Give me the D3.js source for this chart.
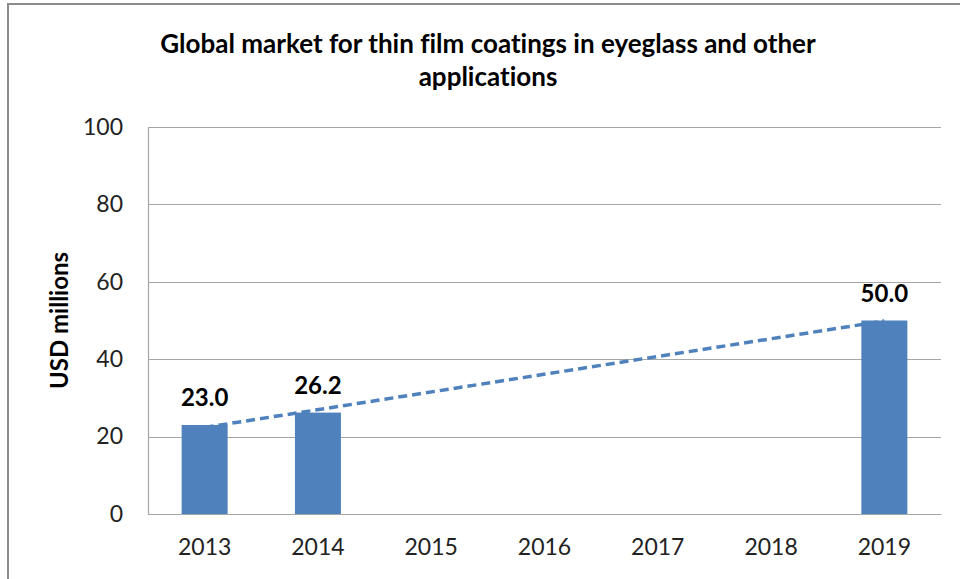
<!DOCTYPE html>
<html>
<head>
<meta charset="utf-8">
<script src="https://cdn.jsdelivr.net/npm/d3@7"></script>
<style>
  body { margin: 0; background: #fff; }
  svg { display: block; font-family: Lato, "Open Sans", sans-serif; font-variant-ligatures: none; }
</style>
</head>
<body>
<div id="chart"></div>
<script>
// chart data
var years = ["2013", "2014", "2015", "2016", "2017", "2018", "2019"];
var barYears = ["2013", "2014", "2019"];
var barValues = [23.0, 26.2, 50.0];
var yTicks = [0, 20, 40, 60, 80, 100];
var titleLines = ["Global market for thin film coatings in eyeglass and other", "applications"];

var W = 960, H = 579;
var margin = {top: 127, right: 19, bottom: 65, left: 148},
    width = W - margin.left - margin.right,
    height = H - margin.top - margin.bottom;

var svg = d3.select("#chart").append("svg")
    .attr("width", W)
    .attr("height", H);

// outer frame
svg.append("rect")
    .attr("x", 8).attr("y", 4)
    .attr("width", W + 20).attr("height", H + 20)
    .attr("fill", "none")
    .attr("stroke", "#8c8c8c")
    .attr("stroke-width", 2);

// title
svg.append("g").selectAll("text")
  .data(titleLines)
  .enter().append("text")
    .attr("x", 488)
    .attr("y", function(d, i) { return 53 + i * 33; })
    .attr("text-anchor", "middle")
    .style("font-size", "26px")
    .style("font-weight", "bold")
    .attr("fill", "#000")
    .text(function(d) { return d; });

var g = svg.append("g")
    .attr("transform", "translate(" + margin.left + "," + margin.top + ")");

var x = d3.scaleBand()
    .domain(years)
    .range([0, width])
    .paddingInner(0.594)
    .paddingOuter(0.297);

var xc = d3.scaleBand().domain(years).range([0, width]);

var y = d3.scaleLinear()
    .domain([0, 100])
    .range([height, 0]);

// gridlines
g.append("g").selectAll("line")
  .data(yTicks)
  .enter().append("line")
    .attr("x1", 0).attr("x2", width)
    .attr("y1", function(d) { return Math.round(y(d)) + 0.5; })
    .attr("y2", function(d) { return Math.round(y(d)) + 0.5; })
    .attr("stroke", "#a6a6a6")
    .attr("stroke-width", 1.2);

// y axis
var yAxis = g.append("g")
    .call(d3.axisLeft(y).tickValues(yTicks).tickSize(0).tickPadding(25));
yAxis.select(".domain").attr("stroke", "#a6a6a6").attr("stroke-width", 1.2);
yAxis.selectAll("text")
    .style("font-size", "23px")
    .style("font-family", "Lato, 'Open Sans', sans-serif")
    .attr("fill", "#222");

// x axis
var xAxis = g.append("g")
    .attr("transform", "translate(0," + height + ")")
    .call(d3.axisBottom(xc).tickSize(0).tickPadding(25));
xAxis.select(".domain").attr("stroke", "#a6a6a6").attr("stroke-width", 1.2);
xAxis.selectAll("text")
    .style("font-size", "23px")
    .style("font-family", "Lato, 'Open Sans', sans-serif")
    .attr("fill", "#222");

// y axis title
svg.append("text")
    .attr("transform", "translate(68," + (margin.top + height / 2) + ")rotate(-90)")
    .attr("text-anchor", "middle")
    .style("font-size", "24px")
    .style("font-weight", "bold")
    .text("USD millions");

// bars
var bars = barYears.map(function(d, i) { return {year: d, value: barValues[i]}; });

g.selectAll("rect.bar")
  .data(bars)
  .enter().append("rect")
    .attr("class", "bar")
    .attr("x", function(d) { return x(d.year); })
    .attr("width", x.bandwidth())
    .attr("y", function(d) { return y(d.value); })
    .attr("height", function(d) { return height - y(d.value); })
    .attr("fill", "#4f81bd");

// linear trendline (least squares over the bars)
var xs = barYears.map(Number);
var mx = d3.mean(xs), my = d3.mean(barValues);
var sxy = d3.sum(xs, function(v, i) { return (v - mx) * (barValues[i] - my); });
var sxx = d3.sum(xs, function(v) { return (v - mx) * (v - mx); });
var slope = sxy / sxx, icpt = my - slope * mx;
var trendEnds = [xs[0], xs[xs.length - 1]];

g.append("path")
    .datum(trendEnds)
    .attr("fill", "none")
    .attr("stroke", "#4f81bd")
    .attr("stroke-width", 3.5)
    .attr("stroke-dasharray", "9,5")
    .attr("d", d3.line()
      .x(function(d) { return xc(String(d)) + xc.bandwidth() / 2; })
      .y(function(d) { return y(slope * d + icpt); }));

// value labels
g.selectAll("text.lbl")
  .data(bars)
  .enter().append("text")
    .attr("class", "lbl")
    .attr("x", function(d) { return x(d.year) + x.bandwidth() / 2; })
    .attr("y", function(d) { return y(d.value) - 19; })
    .attr("text-anchor", "middle")
    .style("font-size", "24px")
    .style("font-weight", "bold")
    .text(function(d) { return d.value.toFixed(1); });
</script>
</body>
</html>
